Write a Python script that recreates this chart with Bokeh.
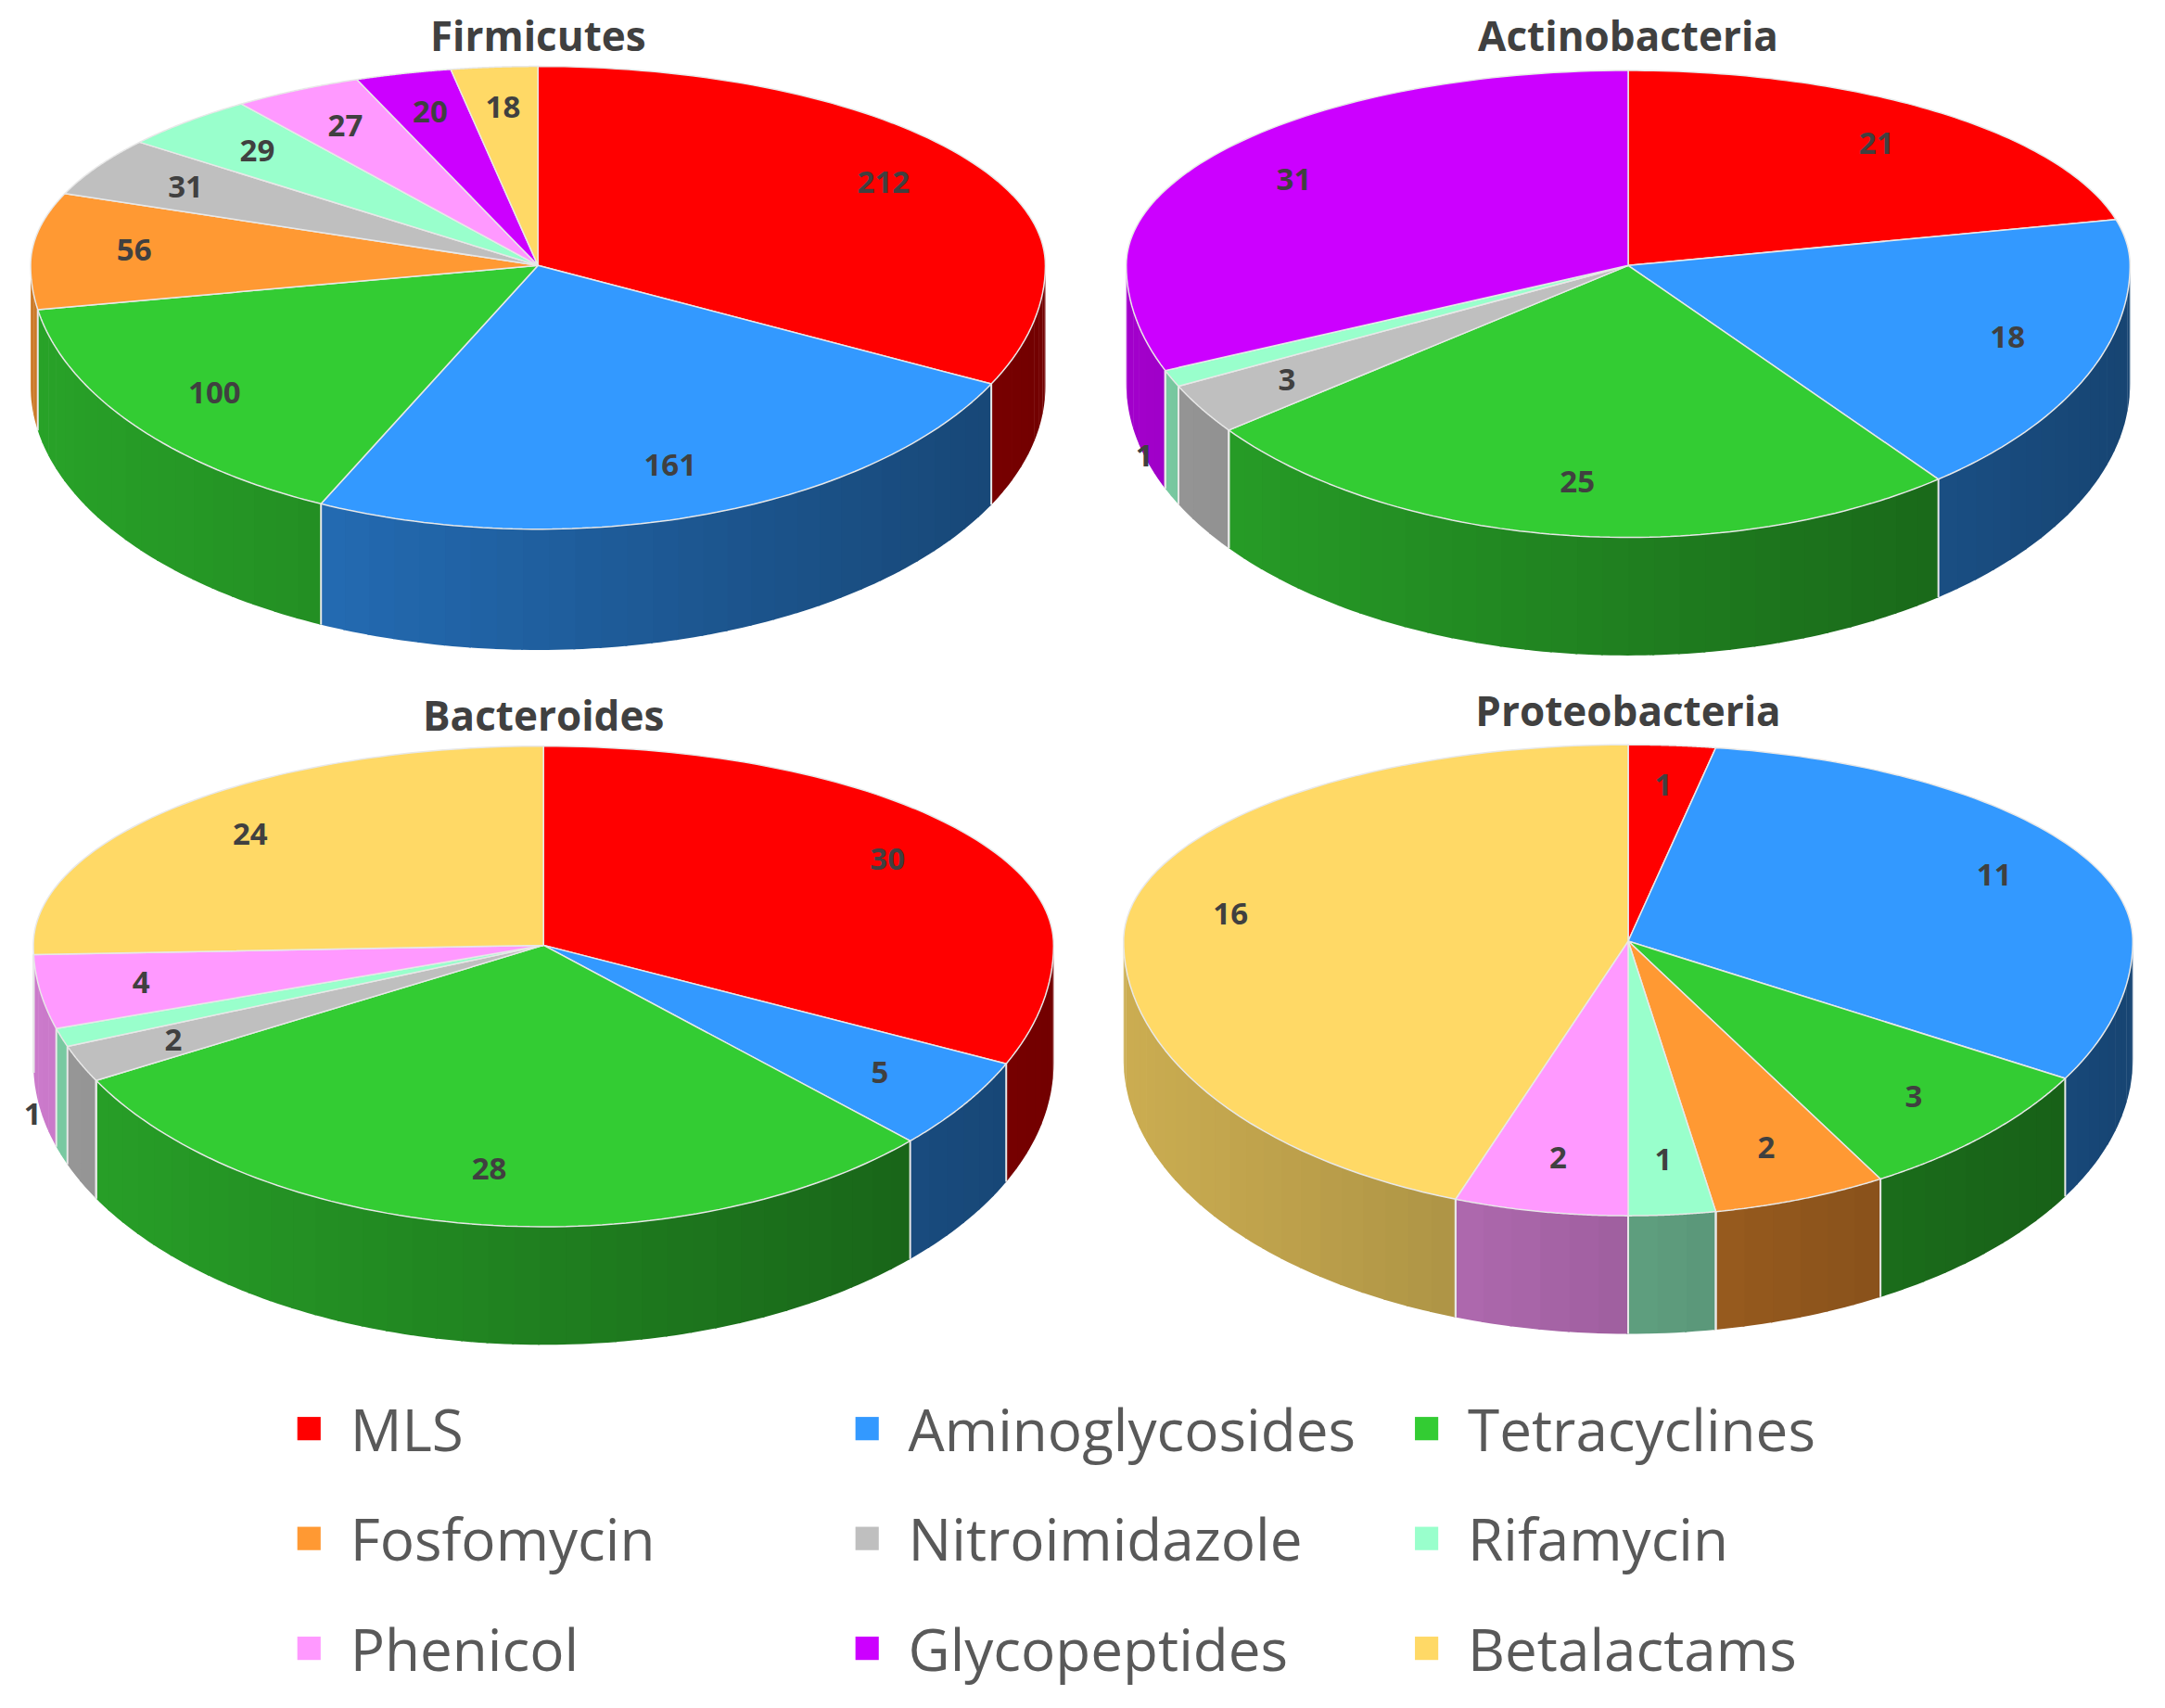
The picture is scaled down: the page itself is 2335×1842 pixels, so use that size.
import numpy as np
from bokeh.plotting import figure
from bokeh.models import Range1d
from bokeh.core.properties import value
from bokeh.embed import file_html
from bokeh.resources import INLINE

categories = ["MLS", "Aminoglycosides", "Tetracyclines", "Fosfomycin", "Nitroimidazole",
              "Rifamycin", "Phenicol", "Glycopeptides", "Betalactams"]
colors = ["#FF0000", "#3399FF", "#33CC33", "#FF9933", "#BFBFBF", "#99FFCC", "#FF99FF", "#CC00FF", "#FFD966"]

firmicutes = [212, 161, 100, 56, 31, 29, 27, 20, 18]
actinobacteria = [21, 18, 25, 0, 3, 1, 0, 31, 0]
bacteroides = [30, 5, 28, 0, 2, 1, 4, 0, 24]
proteobacteria = [1, 11, 3, 2, 0, 1, 2, 0, 16]

titles = ["Firmicutes", "Actinobacteria", "Bacteroides", "Proteobacteria"]
series = [firmicutes, actinobacteria, bacteroides, proteobacteria]
# layout in display units (cx, cy, rx, ry_back, ry_front, depth, title_y)
geoms = [(392, 193, 370, 145, 192, 88, 25), (1187, 193, 366, 142, 198, 86, 25),
         (396, 688, 372, 145, 205, 86, 520), (1187, 685, 368, 143, 200, 86, 517)]

FONT = value("Open Sans")

p = figure(width=2319, height=1826, x_range=Range1d(0, 1568), y_range=Range1d(1233, 0),
           output_backend="svg", toolbar_location=None, min_border=0)
p.axis.visible = False
p.grid.visible = False
p.outline_line_color = None


def shade(hexc, f):
    h = hexc.lstrip("#")
    r, g, b = (int(h[i:i + 2], 16) for i in (0, 2, 4))
    return "#%02x%02x%02x" % (int(r * f), int(g * f), int(b * f))


def ypos(cy, rb, rf, t):
    c = np.cos(t)
    return cy - np.where(c > 0, rb, rf) * c


for vals, (cx, cy, rx, rb, rf, dp, ty), title in zip(series, geoms, titles):
    tot = float(sum(vals))
    edges = np.concatenate([[0], np.cumsum(vals)]) / tot * 2 * np.pi
    for i, v in enumerate(vals):
        if v == 0:
            continue
        a0, a1 = max(edges[i], np.pi / 2), min(edges[i + 1], 3 * np.pi / 2)
        if a1 <= a0:
            continue
        nstrip = max(2, int((a1 - a0) / 0.05))
        bnds = np.linspace(a0, a1, nstrip + 1)
        for k in range(nstrip):
            t = np.linspace(bnds[k], bnds[k + 1] + 0.004, 4)
            xs = cx + rx * np.sin(t)
            ys = ypos(cy, rb, rf, t)
            mid = (bnds[k] + bnds[k + 1]) / 2
            f = 0.45 + 0.35 * (1 - (np.sin(mid) + 1) / 2)
            p.patch(np.concatenate([xs, xs[::-1]]), np.concatenate([ys, ys[::-1] + dp]),
                    fill_color=shade(colors[i], f), line_color=None)
    for e in edges:
        if np.pi / 2 <= e <= 3 * np.pi / 2:
            x = cx + rx * np.sin(e)
            y = float(ypos(cy, rb, rf, e))
            p.line([x, x], [y, y + dp], line_color="#E8E8E8", line_width=2)
    for i, v in enumerate(vals):
        if v == 0:
            continue
        t = np.linspace(edges[i], edges[i + 1], 80)
        xs = np.concatenate([[cx], cx + rx * np.sin(t)])
        ys = np.concatenate([[cy], ypos(cy, rb, rf, t)])
        p.patch(xs, ys, fill_color=colors[i], line_color="#E8E8E8", line_width=1.5)
    for i, v in enumerate(vals):
        if v == 0:
            continue
        m = (edges[i] + edges[i + 1]) / 2
        fr = 0.8 if v / tot > 0.02 else 1.06
        lx = cx + fr * rx * np.sin(m)
        ly = cy - fr * (rb if np.cos(m) > 0 else rf) * np.cos(m)
        if v / tot <= 0.02 and np.pi / 2 < m < 3 * np.pi / 2:
            ly += dp * 0.6
        p.text([lx], [ly], text=[str(v)], text_align="center", text_baseline="middle",
               text_font_size="33px", text_font_style="bold", text_color="#404040",
               text_font=FONT)
    p.text([cx], [ty], text=[title], text_align="center", text_baseline="middle",
           text_font_size="44px", text_font_style="bold", text_color="#404040", text_font=FONT)

lx0 = [225, 632, 1040]
ly0 = [1040, 1120, 1200]
for i, c in enumerate(categories):
    r, col = divmod(i, 3)
    p.rect([lx0[col]], [ly0[r]], width=17, height=17, fill_color=colors[i], line_color=None)
    p.text([lx0[col] + 30], [ly0[r]], text=[c], text_baseline="middle", text_align="left",
           text_font_size="62px", text_color="#595959", text_font=FONT)

open("out.html", "w").write(file_html(p, INLINE))
